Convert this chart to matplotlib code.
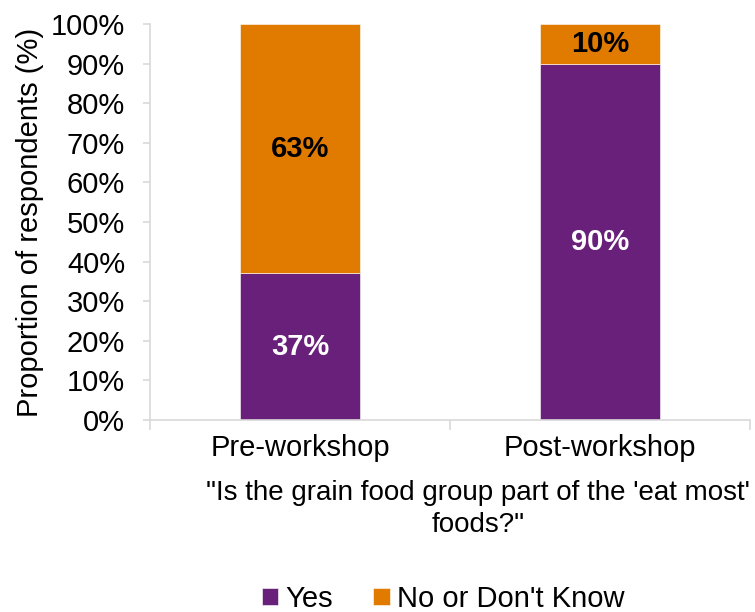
import numpy as np
import matplotlib.pyplot as plt

plt.rcParams['font.family'] = ['Liberation Sans', 'DejaVu Sans']

categories = ["Pre-workshop", "Post-workshop"]
yes_vals = [37, 90]
no_vals = [63, 10]
series_names = ["Yes", "No or Don't Know"]

purple = '#68207A'
orange = '#E07B00'
grid_col = '#D9D9D9'
fs = 21

fig = plt.figure(figsize=(7.55, 6.12), dpi=100)
ax = fig.add_axes([150 / 755, 1 - 420 / 612, 600 / 755, 396 / 612])

x = np.arange(len(categories))
b1 = ax.bar(x, yes_vals, width=0.4, color=purple, edgecolor='white', linewidth=0.4, label=series_names[0])
b2 = ax.bar(x, no_vals, width=0.4, bottom=yes_vals, color=orange, edgecolor='white', linewidth=0.4, label=series_names[1])

for i in range(len(categories)):
    ax.text(x[i], yes_vals[i] / 2, f"{yes_vals[i]}%", ha='center', va='center',
            color='white', fontsize=fs, fontweight='bold')
    ax.text(x[i], yes_vals[i] + no_vals[i] / 2, f"{no_vals[i]}%", ha='center', va='center',
            color='black', fontsize=fs, fontweight='bold')

ax.set_xlim(-0.5, 1.5)
ax.set_ylim(0, 100)
ax.set_yticks(np.arange(0, 101, 10))
ax.set_yticklabels([f"{v}%" for v in range(0, 101, 10)], fontsize=fs)
ax.set_xticks(x)
ax.set_xticklabels(categories, fontsize=fs)
ax.tick_params(axis='x', length=0, pad=10)
ax.set_xticks([-0.5, 0.5, 1.5], minor=True)
ax.tick_params(axis='x', which='minor', length=7, color=grid_col, width=1.2)
ax.tick_params(axis='y', length=5, color=grid_col, width=1.2, pad=13)

for s in ['top', 'right']:
    ax.spines[s].set_visible(False)
for s in ['left', 'bottom']:
    ax.spines[s].set_color(grid_col)
    ax.spines[s].set_linewidth(1.2)

ax.set_ylabel("Proportion of respondents (%)", fontsize=fs, labelpad=5)

fig.text(478 / 755, 1 - 509 / 612, "\"Is the grain food group part of the 'eat most'\nfoods?\"",
         ha='center', va='center', fontsize=20, linespacing=1.3)

fig.legend(handles=[b1, b2], labels=series_names, loc='center', bbox_to_anchor=(443 / 755, 1 - 599 / 612),
           ncol=2, frameon=False, fontsize=fs, handlelength=0.55, handleheight=0.55,
           handletextpad=0.25, columnspacing=1.4)

fig.savefig('out.png', dpi=100)
